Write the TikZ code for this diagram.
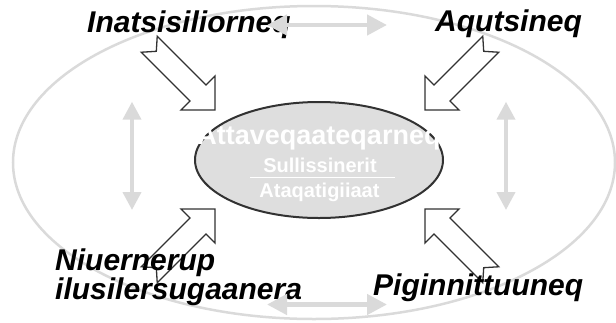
\documentclass[tikz,border=0pt]{standalone}
\usepackage{fontspec}
\setmainfont{Liberation Sans}
\usetikzlibrary{arrows.meta,shapes.geometric}
\definecolor{lgray}{RGB}{218,218,218}
\definecolor{efill}{RGB}{222,222,222}
\definecolor{dgray}{RGB}{50,50,50}
\newcommand{\barrowpath}{\draw[blockarrow] (0,0) -- (-24,24) -- (-24,11.3) -- (-93,11.3) -- (-83,0) -- (-93,-11.3) -- (-24,-11.3) -- (-24,-24) -- cycle;}
\begin{document}
\begin{tikzpicture}[x=1pt,y=-1pt,
  lbl/.style={font=\bfseries\itshape\fontsize{30}{29.5}\selectfont, inner sep=0pt, text=black},
  intext/.style={text=white, font=\bfseries\fontsize{20}{20}\selectfont, inner sep=0pt},
  grayarrow/.style={draw=lgray, line width=4.5pt, {Triangle[length=20pt,width=20pt]}-{Triangle[length=20pt,width=20pt]}},
  sidearrow/.style={draw=lgray, line width=4pt, {Triangle[length=18pt,width=18pt]}-{Triangle[length=18pt,width=18pt]}},
  blockarrow/.style={draw=dgray, fill=white, line width=1.3pt, line join=miter},
]
\useasboundingbox (0,0) rectangle (616,322);
% outer cycle
\draw[lgray, line width=2.5pt] (314,162.5) ellipse [x radius=301, y radius=156.5];
% block arrows
\coordinate (tlTip) at (215,110);
\coordinate (trTip) at (425,110);
\coordinate (blTip) at (215,209);
\coordinate (brTip) at (425,209);
\begin{scope}[shift={(tlTip)}, rotate=-45] \barrowpath \end{scope}
\begin{scope}[shift={(trTip)}, rotate=-135] \barrowpath \end{scope}
\begin{scope}[shift={(blTip)}, rotate=45] \barrowpath \end{scope}
\begin{scope}[shift={(brTip)}, rotate=135] \barrowpath \end{scope}
% hub
\node[ellipse, draw=dgray, line width=2pt, fill=efill, minimum width=248pt, minimum height=116pt, inner sep=0pt] (hub) at (319,160) {};
\node[intext, font=\bfseries\fontsize{27}{27}\selectfont, anchor=base] (hubtitle) at (319,144.3) {Attaveqaateqarneq};
\node[intext, anchor=base] (hubsub1) at (320,172.7) {Sullissinerit};
\coordinate (sepL) at (250,177.5);
\coordinate (sepR) at (395,177.5);
\draw[white, line width=1pt] (sepL) -- (sepR);
\node[intext, anchor=base] (hubsub2) at (319.5,197.3) {Ataqatigiiaat};
% outer labels
\node[lbl, anchor=base west] (inat) at (87,32) {Inatsisiliorneq};
\node[lbl, anchor=base west] (aqut) at (435,31) {Aqutsineq};
\node[lbl, anchor=north west, align=left] (niu) at (55,248.5) {Niuernerup\\ilusilersugaanera};
\node[lbl, anchor=base west] (pig) at (373,295) {Piginnittuuneq};
% gray arrows
\coordinate (ta1) at (267,25);
\coordinate (ta2) at (387,25);
\coordinate (ba1) at (267,304.5);
\coordinate (ba2) at (387,304.5);
\coordinate (la1) at (132,101.7);
\coordinate (la2) at (132,210);
\coordinate (ra1) at (506,101.7);
\coordinate (ra2) at (506,210);
\draw[grayarrow] (ta1) -- (ta2);
\draw[grayarrow] (ba1) -- (ba2);
\draw[sidearrow] (la1) -- (la2);
\draw[sidearrow] (ra1) -- (ra2);
\end{tikzpicture}
\end{document}
